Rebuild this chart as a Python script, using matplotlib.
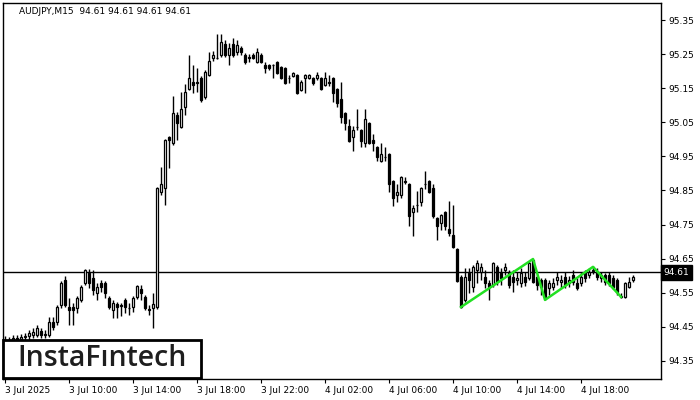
import matplotlib.pyplot as plt
from matplotlib.patches import Rectangle
from matplotlib.transforms import blended_transform_factory
import numpy as np

# AUDJPY M15, 3 Jul 06:00 onward
opens = [94.406, 94.412, 94.409, 94.417, 94.415, 94.420, 94.423, 94.426, 94.426, 94.438,
         94.426, 94.426, 94.464, 94.464, 94.514, 94.588, 94.508, 94.508, 94.505, 94.529,
         94.579, 94.608, 94.593, 94.549, 94.579, 94.579, 94.535, 94.500, 94.517, 94.514,
         94.529, 94.505, 94.508, 94.538, 94.561, 94.538, 94.502, 94.505, 94.508, 94.846,
         94.857, 95.007, 94.989, 95.072, 95.036, 95.095, 95.148, 95.168, 95.168, 95.180,
         95.124, 95.189, 95.239, 95.239, 95.247, 95.280, 95.247, 95.280, 95.256, 95.268,
         95.247, 95.241, 95.247, 95.227, 95.247, 95.218, 95.218, 95.218, 95.227, 95.212,
         95.209, 95.180, 95.186, 95.189, 95.145, 95.180, 95.180, 95.180, 95.180, 95.180,
         95.159, 95.168, 95.180, 95.148, 95.118, 95.077, 95.039, 95.007, 95.036, 95.027,
         94.989, 95.048, 94.998, 94.978, 94.937, 94.948, 94.957, 94.878, 94.837, 94.837,
         94.878, 94.869, 94.787, 94.808, 94.816, 94.869, 94.878, 94.857, 94.769, 94.755,
         94.787, 94.737, 94.720, 94.679, 94.596, 94.529, 94.608, 94.567, 94.617, 94.611,
         94.596, 94.579, 94.573, 94.626, 94.608, 94.617, 94.611, 94.596, 94.588, 94.579,
         94.596, 94.593, 94.646, 94.596, 94.588, 94.588, 94.564, 94.567, 94.588, 94.582,
         94.596, 94.579, 94.602, 94.579, 94.579, 94.608, 94.602, 94.617, 94.611, 94.593,
         94.602, 94.602, 94.593, 94.588, 94.541, 94.538, 94.567, 94.588]
highs = [94.423, 94.420, 94.426, 94.426, 94.429, 94.432, 94.441, 94.447, 94.456, 94.447,
         94.441, 94.479, 94.479, 94.514, 94.585, 94.599, 94.535, 94.520, 94.541, 94.573,
         94.620, 94.620, 94.617, 94.579, 94.588, 94.585, 94.541, 94.529, 94.523, 94.520,
         94.535, 94.520, 94.541, 94.573, 94.573, 94.544, 94.514, 94.549, 94.860, 94.919,
         95.001, 95.010, 95.127, 95.080, 95.139, 95.162, 95.247, 95.218, 95.209, 95.186,
         95.203, 95.256, 95.259, 95.309, 95.309, 95.291, 95.283, 95.297, 95.291, 95.274,
         95.253, 95.250, 95.253, 95.268, 95.253, 95.227, 95.221, 95.221, 95.230, 95.215,
         95.212, 95.189, 95.198, 95.192, 95.174, 95.192, 95.192, 95.183, 95.198, 95.183,
         95.198, 95.189, 95.183, 95.151, 95.168, 95.080, 95.060, 95.039, 95.089, 95.030,
         95.089, 95.051, 95.016, 94.981, 94.989, 94.978, 94.960, 94.881, 94.869, 94.893,
         94.890, 94.872, 94.808, 94.849, 94.860, 94.907, 94.881, 94.869, 94.772, 94.781,
         94.790, 94.819, 94.808, 94.681, 94.602, 94.623, 94.623, 94.632, 94.646, 94.637,
         94.617, 94.588, 94.640, 94.632, 94.623, 94.637, 94.617, 94.617, 94.611, 94.623,
         94.611, 94.643, 94.649, 94.602, 94.593, 94.593, 94.588, 94.593, 94.611, 94.602,
         94.611, 94.599, 94.617, 94.593, 94.611, 94.617, 94.623, 94.629, 94.623, 94.611,
         94.608, 94.611, 94.602, 94.593, 94.549, 94.582, 94.596, 94.602]
lows = [94.394, 94.397, 94.400, 94.403, 94.406, 94.409, 94.412, 94.417, 94.420, 94.417,
        94.417, 94.420, 94.441, 94.456, 94.505, 94.508, 94.456, 94.456, 94.491, 94.523,
        94.573, 94.564, 94.544, 94.529, 94.552, 94.535, 94.502, 94.476, 94.476, 94.482,
        94.491, 94.485, 94.494, 94.532, 94.529, 94.500, 94.485, 94.447, 94.502, 94.837,
        94.808, 94.916, 94.984, 94.998, 95.033, 95.072, 95.145, 95.136, 95.139, 95.109,
        95.118, 95.186, 95.230, 95.236, 95.241, 95.241, 95.218, 95.241, 95.247, 95.247,
        95.221, 95.227, 95.236, 95.224, 95.224, 95.195, 95.203, 95.180, 95.192, 95.177,
        95.162, 95.165, 95.183, 95.133, 95.142, 95.136, 95.177, 95.159, 95.174, 95.145,
        95.156, 95.156, 95.109, 95.095, 95.048, 95.027, 94.992, 94.966, 95.027, 94.978,
        94.978, 94.986, 94.966, 94.937, 94.934, 94.937, 94.846, 94.805, 94.816, 94.828,
        94.869, 94.746, 94.717, 94.787, 94.805, 94.854, 94.843, 94.769, 94.705, 94.734,
        94.734, 94.717, 94.681, 94.582, 94.505, 94.523, 94.549, 94.552, 94.579, 94.588,
        94.564, 94.529, 94.567, 94.573, 94.573, 94.602, 94.564, 94.552, 94.573, 94.567,
        94.570, 94.588, 94.579, 94.558, 94.544, 94.529, 94.544, 94.558, 94.573, 94.564,
        94.564, 94.567, 94.573, 94.558, 94.570, 94.582, 94.593, 94.605, 94.588, 94.582,
        94.573, 94.570, 94.561, 94.544, 94.535, 94.535, 94.564, 94.582]
closes = [94.412, 94.409, 94.417, 94.415, 94.420, 94.423, 94.432, 94.435, 94.447, 94.426,
          94.429, 94.464, 94.450, 94.508, 94.579, 94.514, 94.500, 94.500, 94.535, 94.567,
          94.617, 94.579, 94.558, 94.567, 94.567, 94.549, 94.508, 94.520, 94.508, 94.512,
          94.508, 94.504, 94.535, 94.570, 94.549, 94.505, 94.500, 94.517, 94.857, 94.869,
          94.998, 94.998, 95.077, 95.048, 95.089, 95.139, 95.180, 95.159, 95.166, 95.115,
          95.198, 95.230, 95.247, 95.240, 95.286, 95.247, 95.268, 95.247, 95.277, 95.256,
          95.227, 95.240, 95.239, 95.256, 95.227, 95.209, 95.209, 95.217, 95.195, 95.180,
          95.165, 95.179, 95.195, 95.136, 95.168, 95.189, 95.189, 95.165, 95.189, 95.148,
          95.180, 95.166, 95.136, 95.106, 95.066, 95.048, 94.995, 95.027, 95.035, 94.995,
          95.060, 94.989, 94.989, 94.948, 94.957, 94.947, 94.869, 94.828, 94.846, 94.890,
          94.876, 94.775, 94.799, 94.806, 94.857, 94.868, 94.846, 94.775, 94.746, 94.778,
          94.746, 94.725, 94.684, 94.585, 94.508, 94.596, 94.588, 94.626, 94.637, 94.626,
          94.579, 94.567, 94.637, 94.582, 94.593, 94.626, 94.573, 94.582, 94.593, 94.608,
          94.582, 94.637, 94.582, 94.573, 94.567, 94.538, 94.579, 94.579, 94.596, 94.588,
          94.573, 94.588, 94.582, 94.564, 94.596, 94.593, 94.611, 94.615, 94.596, 94.602,
          94.582, 94.579, 94.567, 94.552, 94.539, 94.579, 94.582, 94.596]

time_labels = ['3 Jul 2025', '3 Jul 10:00', '3 Jul 14:00', '3 Jul 18:00', '3 Jul 22:00',
               '4 Jul 02:00', '4 Jul 06:00', '4 Jul 10:00', '4 Jul 14:00', '4 Jul 18:00']
price_ticks = [94.35, 94.45, 94.55, 94.65, 94.75, 94.85, 94.95, 95.05, 95.15, 95.25, 95.35]
last_price = 94.61

# triple-bottom outline (bar index, price)
pattern_idx = [114, 132, 135, 147, 154]
pattern_px = [94.508, 94.649, 94.529, 94.626, 94.538]

o = np.array(opens); h = np.array(highs); l = np.array(lows); c = np.array(closes)
x = np.arange(len(o))

fig = plt.figure(figsize=(7, 4), dpi=100)
ax = fig.add_axes([3/700, 21/400, 658/700, 376/400])

ax.vlines(x, l, h, color='black', lw=1)
up = c >= o
body_lo = np.minimum(o, c)
body_h = np.maximum(np.abs(c - o), 0.0008)
ax.bar(x[up], body_h[up], bottom=body_lo[up], width=0.6, color='white',
       edgecolor='black', linewidth=0.9, zorder=3)
ax.bar(x[~up], body_h[~up], bottom=body_lo[~up], width=0.6, color='black',
       edgecolor='black', linewidth=0.9, zorder=3)

ax.axhline(last_price, color='black', lw=1, zorder=2)
ax.plot(pattern_idx, pattern_px, color='#22e022', lw=1.8, zorder=4)

ax.set_xlim(-0.5, 164.0)
ax.set_ylim(94.297, 95.400)

ax.yaxis.tick_right()
ax.set_yticks(price_ticks)
ax.set_yticklabels(['%.2f' % p for p in price_ticks])
ax.set_xticks(np.arange(len(time_labels)) * 16)
ax.set_xticklabels(time_labels)
for lbl in ax.get_xticklabels():
    lbl.set_horizontalalignment('left')
ax.tick_params(axis='both', labelsize=6.5, length=3, width=0.8, pad=2, colors='black')
for s in ax.spines.values():
    s.set_linewidth(1)

tr = blended_transform_factory(ax.transAxes, ax.transData)
ax.text(1.004, last_price, '94.61', transform=tr, color='white', fontsize=6.5,
        va='center', ha='left', clip_on=False,
        bbox=dict(boxstyle='square,pad=0.3', fc='black', ec='black'))

fig.text(19/700, 1 - 11/400, 'AUDJPY,M15  94.61 94.61 94.61 94.61', fontsize=6.5,
         va='center', ha='left')

# logo box
fig.patches.append(Rectangle((3/700, 22/400), 198/700, 38/400, transform=fig.transFigure,
                             fc='white', ec='black', lw=2, zorder=5))
fig.text(102/700, 1 - 359/400, 'InstaF\u0131ntech', fontsize=20.5, color='#1e1e1e',
         family='Open Sans', weight='semibold', ha='center', va='center', zorder=6)

fig.savefig('out.png', dpi=100)
